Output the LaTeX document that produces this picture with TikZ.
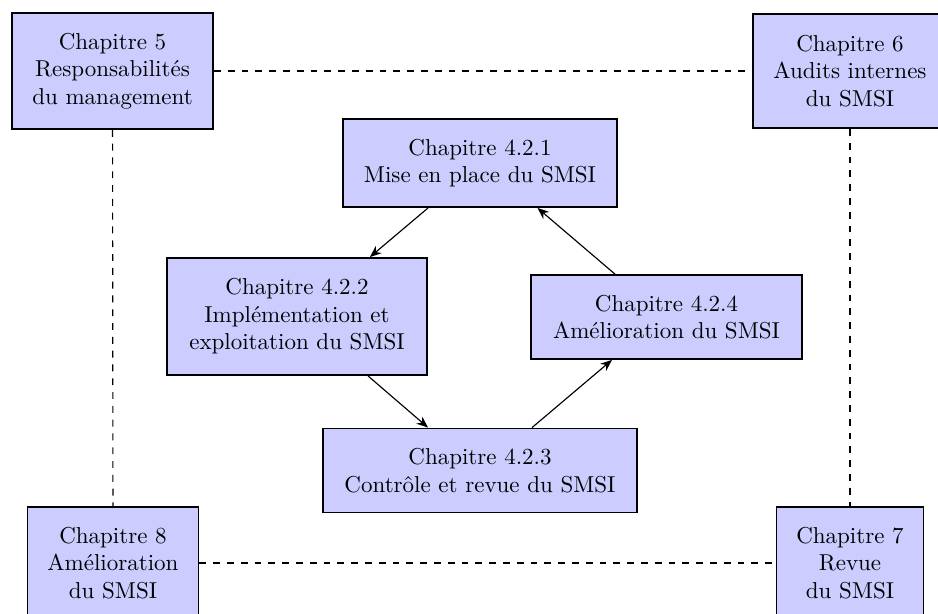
\documentclass[tikz,border=0pt]{standalone}
\usetikzlibrary{arrows.meta}
\begin{document}
\begin{tikzpicture}[x=0.4348pt, y=-0.4348pt,
  box/.style={draw=black, line width=0.8pt, fill=blue!20, align=center, inner sep=2pt},
  link/.style={dashed, line width=0.5pt},
  flow/.style={-{Stealth[length=5pt,width=4pt]}, line width=0.5pt}]
\useasboundingbox (0,0) rectangle (938,613);
\node[box, minimum width=87.4pt, minimum height=50.4pt] (c5) at (112.5,71) {Chapitre 5\\Responsabilités\\du management};
\node[box, minimum width=84.3pt, minimum height=49.6pt] (c6) at (850,71) {Chapitre 6\\Audits internes\\du SMSI};
\node[box, minimum width=74.3pt, minimum height=48.7pt] (c8) at (113,563) {Chapitre 8\\Amélioration\\du SMSI};
\node[box, minimum width=63.9pt, minimum height=48.7pt] (c7) at (850,563) {Chapitre 7\\Revue\\du SMSI};
\node[box, minimum width=119pt, minimum height=38.3pt] (a1) at (480,163) {Chapitre 4.2.1\\Mise en place du SMSI};
\node[box, minimum width=113pt, minimum height=50.9pt] (a2) at (297,316.5) {Chapitre 4.2.2\\Implémentation et\\exploitation du SMSI};
\node[box, minimum width=117.8pt, minimum height=36.5pt] (a4) at (666.5,317) {Chapitre 4.2.4\\Amélioration du SMSI};
\node[box, minimum width=136.5pt, minimum height=36.5pt] (a3) at (480,470.5) {Chapitre 4.2.3\\Contrôle et revue du SMSI};
\draw[link] (c5) -- (c6);
\draw[link] (c5) -- (c8);
\draw[link] (c6) -- (c7);
\draw[link] (c8) -- (c7);
\draw[flow] ([xshift=-22.6pt]a1.south) -- ([xshift=31.7pt]a2.north);
\draw[flow] ([xshift=30.9pt]a2.south) -- ([xshift=-22.6pt]a3.north);
\draw[flow] ([xshift=22.6pt]a3.north) -- ([xshift=-23.7pt]a4.south);
\draw[flow] ([xshift=-22.4pt]a4.north) -- ([xshift=25pt]a1.south);
\end{tikzpicture}
\end{document}
